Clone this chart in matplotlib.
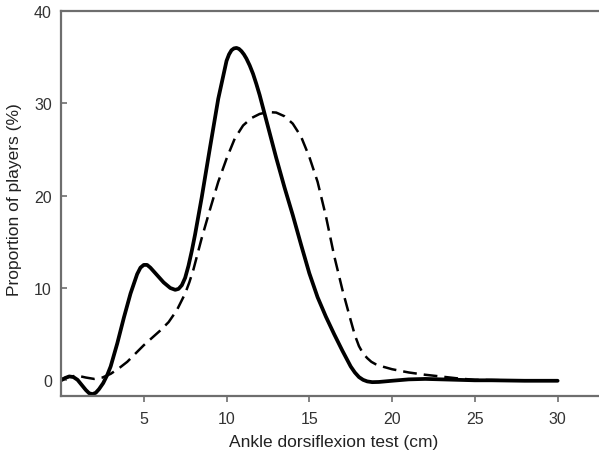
import matplotlib
matplotlib.use('Agg')
import matplotlib.pyplot as plt

# solid curve (first group)
x_solid = [0, 0.25, 0.5, 0.75, 1.0, 1.25, 1.5, 1.7, 1.9, 2.1, 2.3, 2.55, 2.8, 3.0, 3.4,
           3.8, 4.2, 4.6, 4.8, 5.0, 5.2, 5.4, 5.6, 5.8, 6.2, 6.6, 6.9, 7.1, 7.3, 7.5,
           7.7, 7.9, 8.1, 8.5, 9.0, 9.5, 10.0, 10.15, 10.3, 10.45, 10.6, 10.75, 10.9,
           11.05, 11.2, 11.4, 11.6, 11.8, 12.0, 12.5, 13.0, 13.5, 14.0, 14.5, 15.0,
           15.5, 16.0, 16.5, 17.0, 17.5, 17.75, 18.0, 18.25, 18.5, 18.8, 19.2, 20, 21,
           22, 23, 24, 25, 26, 28, 30]
y_solid = [0, 0.25, 0.42, 0.35, 0.05, -0.5, -1.05, -1.4, -1.5, -1.35, -0.95, -0.3, 0.6,
           1.5, 4.0, 6.8, 9.4, 11.5, 12.2, 12.5, 12.5, 12.2, 11.8, 11.4, 10.6, 10.0, 9.8,
           9.9, 10.3, 11.1, 12.4, 14.0, 15.8, 19.8, 25.2, 30.5, 34.6, 35.3, 35.75, 35.95,
           36.0, 35.9, 35.65, 35.3, 34.85, 34.1, 33.2, 32.1, 30.9, 27.5, 24.1, 20.9, 17.9,
           14.7, 11.6, 9.0, 6.9, 5.0, 3.2, 1.5, 0.85, 0.35, 0.05, -0.12, -0.2, -0.18,
           -0.05, 0.1, 0.15, 0.1, 0.05, 0, 0, -0.05, -0.05]

# dashed curve (second group)
x_dash = [0, 0.5, 1.0, 1.5, 2.0, 2.5, 3.0, 3.5, 4.0, 4.5, 5.0, 5.5, 6.0, 6.5, 7.0, 7.5,
          7.75, 8.0, 8.25, 8.5, 9.0, 9.5, 10.0, 10.5, 11.0, 11.5, 12.0, 12.5, 13.0, 13.5,
          14.0, 14.5, 15.0, 15.5, 16.0, 16.5, 17.0, 17.5, 17.75, 18.0, 18.25, 18.5, 18.75,
          19.0, 19.5, 20.0, 21, 22, 23, 24, 25, 27, 30]
y_dash = [0.1, 0.4, 0.5, 0.3, 0.15, 0.3, 0.7, 1.3, 2.0, 2.9, 3.8, 4.6, 5.4, 6.3, 7.6, 9.4,
          10.6, 12.0, 13.7, 15.4, 18.5, 21.5, 24.0, 26.2, 27.6, 28.4, 28.85, 29.05, 29.0,
          28.6, 27.8, 26.4, 24.2, 21.5, 17.8, 13.5, 9.8, 6.5, 4.9, 3.7, 2.9, 2.4, 2.0,
          1.75, 1.45, 1.2, 0.85, 0.6, 0.4, 0.2, 0.05, 0, 0]

x_ticks = [5, 10, 15, 20, 25, 30]
y_ticks = [0, 10, 20, 30, 40]

plt.rcParams['font.family'] = ['Liberation Sans', 'DejaVu Sans']

fig = plt.figure(figsize=(5.99, 4.64), dpi=100)
ax = fig.add_axes([61/599, 67/464, 538/599, 385/464])

ax.plot(x_solid, y_solid, color='black', lw=2.7, solid_capstyle='round', solid_joinstyle='round')
ax.plot(x_dash, y_dash, color='black', lw=1.8, dashes=(5.5, 2.8))

ax.set_xlim(0, 32.5)
ax.set_ylim(-1.7, 40)
ax.set_xticks(x_ticks)
ax.set_yticks(y_ticks)

for side in ['left', 'bottom', 'top']:
    ax.spines[side].set_color('#6e6e6e')
    ax.spines[side].set_linewidth(1.6)
ax.spines['right'].set_visible(False)

ax.tick_params(axis='x', direction='out', length=4, width=1.2, color='#6e6e6e',
               labelsize=11.5, labelcolor='#333333', pad=7)
ax.tick_params(axis='y', direction='in', length=4, width=1.2, color='#6e6e6e',
               labelsize=11.5, labelcolor='#333333', pad=6.5)

fig.text(334/599, 1 - 443/464, 'Ankle dorsiflexion test (cm)', fontsize=12.5,
         color='#222222', ha='center', va='center')
fig.text(15/599, 1 - 200/464, 'Proportion of players (%)', fontsize=12.5,
         color='#222222', ha='center', va='center', rotation=90)

fig.savefig('out.png', dpi=100)
